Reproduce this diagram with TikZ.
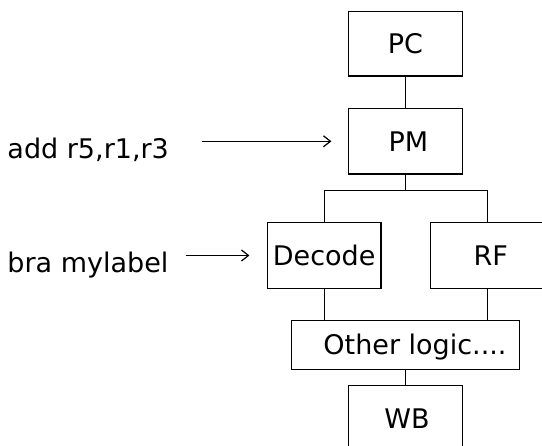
\documentclass[tikz,border=0pt]{standalone}
\usepackage{fontspec}
\setmainfont{DejaVu Sans}
\usetikzlibrary{arrows.meta}
\begin{document}
\begin{tikzpicture}[x=1pt,y=-1pt,
  blk/.style={draw,line width=1.2pt,inner sep=0pt,text height=19.7pt,text depth=0pt,
    font=\fontsize{27}{32}\selectfont},
  txt/.style={inner sep=0pt,anchor=base west,font=\fontsize{27}{32}\selectfont},
  wire/.style={line width=1.2pt},
  arr/.style={line width=1.2pt,-{Straight Barb[length=7pt,width=11pt,line width=1.2pt]}}]
\path[clip] (0,0) rectangle (542,446);
\node[blk,minimum width=114.4pt,minimum height=64.7pt] (PC) at (405.5,43.7) {PC};
\node[blk,minimum width=114.4pt,minimum height=65.3pt] (PM) at (405.5,141.3) {\hspace*{6pt}PM};
\node[blk,minimum width=113.7pt,minimum height=65.6pt] (DEC) at (324.2,255.5) {Decode};
\node[blk,minimum width=114pt,minimum height=65.6pt] (RF) at (487.3,255.5) {\hspace*{7pt}RF};
\node[blk,minimum width=227.6pt,minimum height=49pt] (OL) at (405.5,344.8) {\hspace*{19pt}Other logic....};
\node[blk,minimum width=114.4pt,minimum height=65pt] (WB) at (405.5,418.2) {\hspace*{3pt}WB};
\node[txt] (add) at (7.3,159) {add r5,r1,r3};
\node[txt] (bra) at (7.3,272.3) {bra mylabel};
\coordinate (split) at (405.5,190.7);
\coordinate (a1) at (202.3,141.3);
\coordinate (a2) at (185.7,255.5);
\draw[wire] (PC.south) -- (PM.north);
\draw[wire] (PM.south) -- (split);
\draw[wire] (split) -| (DEC.north);
\draw[wire] (split) -| (RF.north);
\draw[wire] (DEC.south) -- (DEC.south |- OL.north);
\draw[wire] (RF.south) -- (RF.south |- OL.north);
\draw[wire] (OL.south) -- (WB.north);
\draw[arr,shorten >=16.3pt] (a1) -- (PM.west);
\draw[arr,shorten >=17.3pt] (a2) -- (DEC.west);
\end{tikzpicture}
\end{document}
